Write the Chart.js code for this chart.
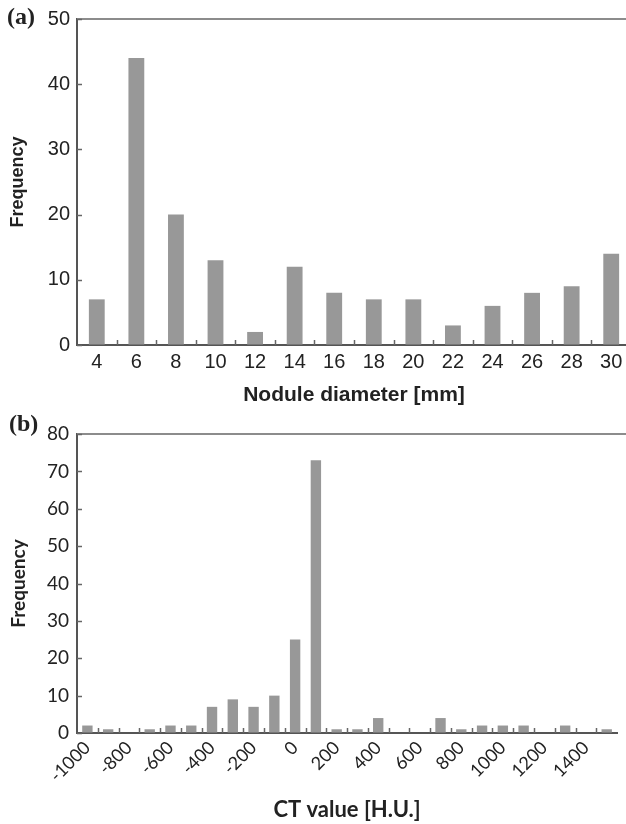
<!DOCTYPE html>
<html>
<head>
<meta charset="utf-8">
<script src="https://cdn.jsdelivr.net/npm/chart.js@4.4.1/dist/chart.umd.min.js"></script>
<style>
  html, body { margin: 0; padding: 0; background: #fff; overflow: hidden; width: 626px; height: 824px; }
  #wrapA { position: absolute; left: 0; top: 0; width: 640px; height: 412px; }
  #wrapB { position: absolute; left: 0; top: 412px; width: 626px; height: 412px; }
  .tag { position: absolute; font-family: "Liberation Serif", "DejaVu Serif", serif; font-weight: bold; font-size: 24px; color: #222; }
</style>
</head>
<body>
<div id="wrapA"><canvas id="chartA"></canvas></div>
<div id="wrapB"><canvas id="chartB"></canvas></div>
<div class="tag" style="left:7px; top:3px;">(a)</div>
<div class="tag" style="left:9px; top:410px;">(b)</div>

<script>
// (a) nodule diameter histogram
const diameterLabels = ["4", "6", "8", "10", "12", "14", "16", "18", "20", "22", "24", "26", "28", "30"];
const diameterCounts = [7, 44, 20, 13, 2, 12, 8, 7, 7, 3, 6, 8, 9, 14];

// (b) CT value histogram, bins of 100 H.U.
const ctLabels = ["-1000", "-900", "-800", "-700", "-600", "-500", "-400", "-300", "-200", "-100",
                  "0", "100", "200", "300", "400", "500", "600", "700", "800", "900",
                  "1000", "1100", "1200", "1300", "1400", "1500"];
const ctCounts = [2, 1, 0, 1, 2, 2, 7, 9, 7, 10, 25, 73, 1, 1, 4, 0, 0, 4, 1, 2, 2, 2, 0, 2, 0, 1];

const BAR = "#989898";
const AXIS = "#555";

// top border line + small inward ticks
const frame = {
  id: "frame",
  afterDraw(chart) {
    const { ctx, chartArea: a, scales: { x, y } } = chart;
    ctx.save();
    ctx.strokeStyle = "#8c8c8c";
    ctx.lineWidth = 2;
    ctx.beginPath();
    ctx.moveTo(a.left, a.top);
    ctx.lineTo(chart.width, a.top);
    ctx.stroke();

    ctx.strokeStyle = "#666";
    ctx.lineWidth = 1.5;
    const n = chart.data.labels.length;
    for (let i = 0; i < n - 1; i++) {
      const px = Math.round((x.getPixelForValue(i) + x.getPixelForValue(i + 1)) / 2) + 0.5;
      ctx.beginPath();
      ctx.moveTo(px, a.bottom);
      ctx.lineTo(px, a.bottom - 5);
      ctx.stroke();
    }
    y.ticks.forEach((t) => {
      const py = Math.round(y.getPixelForValue(t.value)) + 0.5;
      ctx.beginPath();
      ctx.moveTo(a.left, py);
      ctx.lineTo(a.left + 5, py);
      ctx.stroke();
    });
    ctx.restore();
  },
};

function makeChart(id, cfg) {
  return new Chart(document.getElementById(id), {
    type: "bar",
    data: {
      labels: cfg.labels,
      datasets: [{
        data: cfg.values,
        backgroundColor: BAR,
        borderWidth: 0,
        barPercentage: cfg.barPct,
        categoryPercentage: 1,
      }],
    },
    options: {
      responsive: true,
      maintainAspectRatio: false,
      animation: false,
      layout: { padding: { top: cfg.padTop, right: cfg.padRight, left: 0, bottom: 0 } },
      plugins: { legend: { display: false }, tooltip: { enabled: false } },
      scales: {
        x: {
          grid: { drawOnChartArea: false, drawTicks: false },
          border: { color: AXIS, width: 2 },
          ticks: {
            color: "#222",
            font: { family: cfg.font, size: cfg.xTickSize },
            padding: cfg.xTickPad,
            autoSkip: false,
            maxRotation: cfg.rot,
            minRotation: cfg.rot,
            callback: cfg.xCallback,
          },
          title: {
            display: true,
            text: cfg.xTitle,
            color: "#222",
            font: { family: cfg.font, size: cfg.xTitleSize, weight: "bold" },
            padding: { top: 0, bottom: cfg.xTitlePad },
          },
          afterFit: (s) => { s.height = cfg.xHeight; },
        },
        y: {
          min: 0,
          max: cfg.yMax,
          grid: { drawOnChartArea: false, drawTicks: false },
          border: { color: AXIS, width: 2 },
          ticks: {
            stepSize: 10,
            color: "#222",
            font: { family: cfg.font, size: cfg.yTickSize },
            padding: cfg.yTickPad,
          },
          title: {
            display: true,
            text: "Frequency",
            color: "#222",
            font: { family: cfg.font, size: cfg.yTitleSize, weight: "bold" },
            padding: { top: 7, bottom: 0 },
          },
          afterFit: (s) => { s.width = 77; },
        },
      },
    },
    plugins: [frame],
  });
}

makeChart("chartA", {
  labels: diameterLabels,
  values: diameterCounts,
  barPct: 0.4,
  font: "'Liberation Sans', Arial, sans-serif",
  xTickSize: 20,
  yTickSize: 20,
  xTickPad: 5,
  rot: 0,
  xCallback: function (v, i) { return this.getLabelForValue(v); },
  xTitle: "Nodule diameter [mm]",
  xTitleSize: 21,
  xTitlePad: 4,
  yTitleSize: 18,
  xHeight: 67,
  yMax: 50,
  yTickPad: 7,
  padTop: 18,
  padRight: 9,
});

makeChart("chartB", {
  labels: ctLabels,
  values: ctCounts,
  barPct: 0.5,
  font: "Lato, 'Open Sans', sans-serif",
  xTickSize: 18,
  yTickSize: 19,
  xTickPad: 4,
  rot: 45,
  xCallback: function (v, i) { return i % 2 === 0 ? this.getLabelForValue(v) : ""; },
  xTitle: "CT value [H.U.]",
  xTitleSize: 22,
  xTitlePad: 1,
  yTitleSize: 19,
  xHeight: 91,
  yMax: 80,
  yTickPad: 8,
  padTop: 22,
  padRight: 1,
});
</script>
</body>
</html>
